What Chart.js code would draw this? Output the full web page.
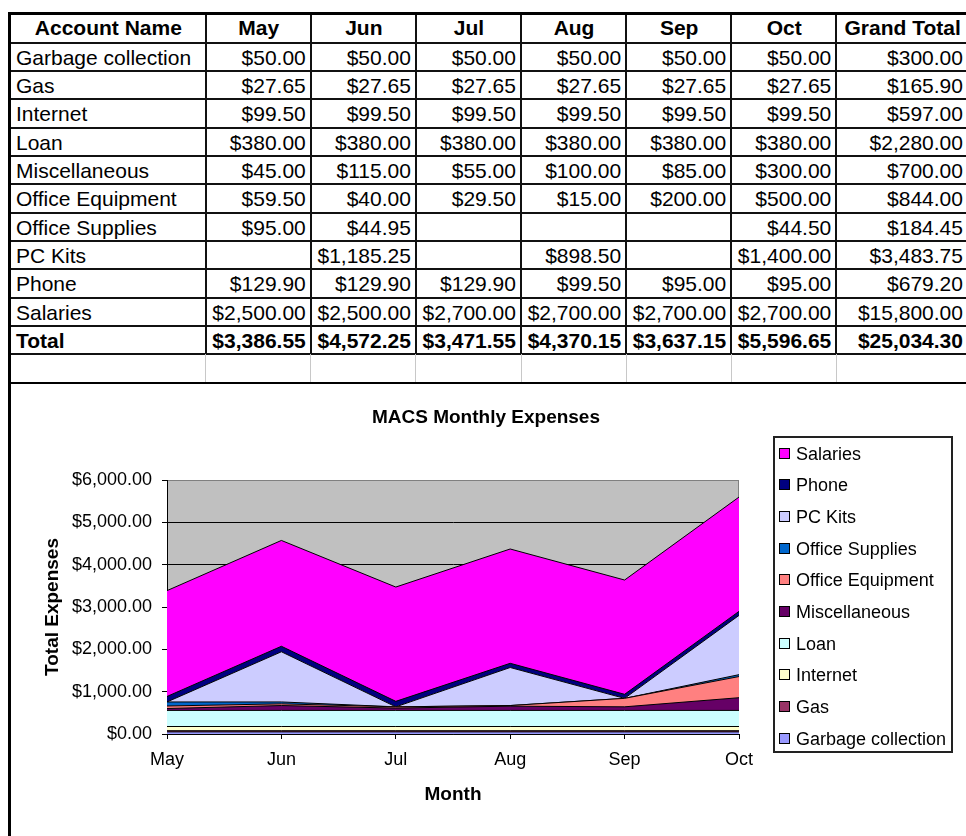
<!DOCTYPE html>
<html>
<head>
<meta charset="utf-8">
<title>MACS Monthly Expenses</title>
<script src="https://cdn.jsdelivr.net/npm/chart.js@4.4.1/dist/chart.umd.min.js"></script>
<style>
    html, body {
        margin: 0;
        padding: 0;
        width: 966px;
        height: 836px;
        overflow: hidden;
        background: #fff;
        font-family: Arial, "Liberation Sans", sans-serif;
        color: #000;
    }
    .abs { position: absolute; box-sizing: border-box; }
    .cell {
        position: absolute;
        box-sizing: border-box;
        font-size: 21px;
        white-space: nowrap;
        overflow: hidden;
        padding: 0 5px 0 5px;
    }
    .hline { position: absolute; background: #111; height: 2px; }
    .vline { position: absolute; background: #111; width: 2px; }
    #chart { position: absolute; left: 0; top: 384px; }
    #chartTitle {
        position: absolute;
        left: 286px;
        width: 400px;
        top: 405px;
        line-height: 24px;
        font-size: 19px;
        font-weight: bold;
        text-align: center;
    }
    #legend {
        position: absolute;
        left: 773px;
        top: 436px;
        width: 180px;
        height: 317px;
        border: 2px solid #222;
        box-sizing: border-box;
    }
    .legend-box { position: absolute; width: 11px; height: 11px; border: 1px solid #000; box-sizing: border-box; }
    .legend-text { position: absolute; font-size: 18px; line-height: 24px; white-space: nowrap; }
</style>
</head>
<body>
<div id="sheet"></div>
<canvas id="chart" width="966" height="452"></canvas>
<div id="chartTitle">MACS Monthly Expenses</div>
<div id="legend"></div>
<script>
const months = ['May', 'Jun', 'Jul', 'Aug', 'Sep', 'Oct'];
const accounts = [
    'Garbage collection', 'Gas', 'Internet', 'Loan', 'Miscellaneous',
    'Office Equipment', 'Office Supplies', 'PC Kits', 'Phone', 'Salaries'
];
const garbageCollection = [50.00, 50.00, 50.00, 50.00, 50.00, 50.00];
const gas = [27.65, 27.65, 27.65, 27.65, 27.65, 27.65];
const internet = [99.50, 99.50, 99.50, 99.50, 99.50, 99.50];
const loan = [380.00, 380.00, 380.00, 380.00, 380.00, 380.00];
const miscellaneous = [45.00, 115.00, 55.00, 100.00, 85.00, 300.00];
const officeEquipment = [59.50, 40.00, 29.50, 15.00, 200.00, 500.00];
const officeSupplies = [95.00, 44.95, null, null, null, 44.50];
const pcKits = [null, 1185.25, null, 898.50, null, 1400.00];
const phone = [129.90, 129.90, 129.90, 99.50, 95.00, 95.00];
const salaries = [2500.00, 2500.00, 2700.00, 2700.00, 2700.00, 2700.00];
const monthTotals = [3386.55, 4572.25, 3471.55, 4370.15, 3637.15, 5596.65];
const grandTotals = [300.00, 165.90, 597.00, 2280.00, 700.00, 844.00, 184.45, 3483.75, 679.20, 15800.00];
const overallTotal = 25034.30;

const series = [
    garbageCollection, gas, internet, loan, miscellaneous,
    officeEquipment, officeSupplies, pcKits, phone, salaries
];
const seriesColors = [
    '#9999FF', '#993366', '#FFFFCC', '#CCFFFF', '#660066',
    '#FF8080', '#0066CC', '#CCCCFF', '#000080', '#FF00FF'
];
const yMax = 6000;
const yStep = 1000;

function money(v) {
    if (v === null || v === undefined) return '';
    return '$' + v.toLocaleString('en-US', { minimumFractionDigits: 2, maximumFractionDigits: 2 });
}

/**
 * Spreadsheet table (absolute cells so the grid lines sit where Excel put them)
 */
function buildSheet() {
    const sheet = document.getElementById('sheet');
    const colEdges = [10, 205.7, 310.8, 415.9, 521, 626.1, 731.2, 836.3, 968];
    const rowEdges = [13];
    for (let k = 0; k <= 11; k++) rowEdges.push(42.7 + k * 28.33);
    rowEdges.push(382.7);

    const add = (cls, css, text) => {
        const d = document.createElement('div');
        d.className = cls;
        Object.assign(d.style, css);
        if (text !== undefined) d.textContent = text;
        sheet.appendChild(d);
        return d;
    };

    const rows = [];
    rows.push({ bold: true, header: true, cells: ['Account Name', ...months, 'Grand Total'] });
    accounts.forEach((name, i) => {
        rows.push({ cells: [name, ...series[i].map(money), money(grandTotals[i])] });
    });
    rows.push({ bold: true, cells: ['Total', ...monthTotals.map(money), money(overallTotal)] });

    rows.forEach((row, r) => {
        const top = rowEdges[r];
        const h = rowEdges[r + 1] - top;
        row.cells.forEach((text, c) => {
            const left = colEdges[c] + 1;
            const w = colEdges[c + 1] - colEdges[c] - 1;
            add('cell', {
                left: left + 'px',
                top: top + 'px',
                width: w + 'px',
                height: h + 'px',
                lineHeight: h + 'px',
                fontWeight: row.bold ? 'bold' : 'normal',
                textAlign: row.header ? 'center' : (c === 0 ? 'left' : 'right'),
                paddingTop: row.header ? '0px' : '1px'
            }, text);
        });
    });

    // horizontal rules between rows
    for (let r = 1; r <= 12; r++) {
        add('hline', { left: '10px', top: (rowEdges[r] - 1) + 'px', width: '956px' });
    }
    // vertical rules
    for (let c = 1; c < colEdges.length - 1; c++) {
        add('vline', { left: (colEdges[c] - 1) + 'px', top: '13px', height: (rowEdges[12] - 13) + 'px' });
        add('abs', { left: (colEdges[c] - 0.5) + 'px', top: rowEdges[12] + 'px', width: '1px',
            height: (rowEdges[13] - rowEdges[12]) + 'px', background: '#c8c8c8' });
    }
    // heavy outer rules
    add('abs', { left: '8px', top: '12px', width: '958px', height: '3px', background: '#000' });
    add('abs', { left: '8px', top: '381.5px', width: '958px', height: '2.5px', background: '#000' });
    add('abs', { left: '8px', top: '12px', width: '3px', height: '824px', background: '#000', zIndex: 5 });
}

/**
 * Legend drawn as html, top entry is the top of the stack
 */
function buildLegend() {
    const legend = document.getElementById('legend');
    const order = accounts.map((_, i) => i).reverse();
    order.forEach((idx, k) => {
        const cy = 453.3 + k * 31.67 - 436 - 2;
        const box = document.createElement('div');
        box.className = 'legend-box';
        box.style.left = (779 - 773 - 2) + 'px';
        box.style.top = (cy - 5.5) + 'px';
        box.style.background = seriesColors[idx];
        legend.appendChild(box);
        const txt = document.createElement('div');
        txt.className = 'legend-text';
        txt.style.left = (796 - 773 - 2) + 'px';
        txt.style.top = (cy - 11.8) + 'px';
        txt.textContent = accounts[idx];
        legend.appendChild(txt);
    });
}

// grey plot background with grey frame
const plotBackground = {
    id: 'plotBackground',
    beforeDraw(chart) {
        const { ctx, chartArea: a } = chart;
        ctx.save();
        ctx.fillStyle = '#C0C0C0';
        ctx.fillRect(a.left, a.top, a.right - a.left, a.bottom - a.top);
        ctx.strokeStyle = '#808080';
        ctx.lineWidth = 1;
        ctx.strokeRect(a.left + 0.5, a.top + 0.5, a.right - a.left - 1, a.bottom - a.top - 1);
        ctx.restore();
    }
};

function buildChart() {
    Chart.defaults.font.family = 'Arial, "Liberation Sans", sans-serif';
    Chart.defaults.color = '#000';

    const datasets = series.map((values, i) => ({
        label: accounts[i],
        data: values.map(v => (v === null ? 0 : v)),
        backgroundColor: seriesColors[i],
        borderColor: '#000',
        borderWidth: 1,
        fill: i === 0 ? 'origin' : '-1',
        pointRadius: 0,
        tension: 0
    }));

    const ctx = document.getElementById('chart').getContext('2d');
    return new Chart(ctx, {
        type: 'line',
        data: { labels: months, datasets },
        options: {
            responsive: false,
            animation: false,
            layout: { padding: { top: 96, right: 227, bottom: 0, left: 0 } },
            plugins: {
                legend: { display: false },
                title: { display: false },
                tooltip: { enabled: false }
            },
            scales: {
                x: {
                    offset: false,
                    grid: { display: true, drawOnChartArea: false, drawTicks: true, tickLength: 5, color: '#000' },
                    border: { display: true, color: '#000', width: 1 },
                    ticks: { font: { size: 18 }, color: '#000', padding: 10, maxRotation: 0, autoSkip: false },
                    title: {
                        display: true, text: 'Month', color: '#000',
                        font: { size: 19, weight: 'bold' }, padding: { top: 0, bottom: 30 }
                    },
                    afterFit(scale) { scale.height = 102; }
                },
                y: {
                    stacked: true,
                    min: 0,
                    max: yMax,
                    grid: {
                        color: c => (c.tick && c.tick.value === yMax ? '#808080' : '#000'),
                        tickColor: '#000',
                        tickLength: 5
                    },
                    border: { display: true, color: '#000', width: 1 },
                    ticks: {
                        stepSize: yStep,
                        font: { size: 18 },
                        color: '#000',
                        padding: 10,
                        callback: v => money(v)
                    },
                    title: {
                        display: true, text: 'Total Expenses', color: '#000',
                        font: { size: 19, weight: 'bold' }, padding: { top: 41, bottom: 0 }
                    },
                    afterFit(scale) { scale.width = 167; }
                }
            }
        },
        plugins: [plotBackground]
    });
}

buildSheet();
buildLegend();
buildChart();
</script>
</body>
</html>
